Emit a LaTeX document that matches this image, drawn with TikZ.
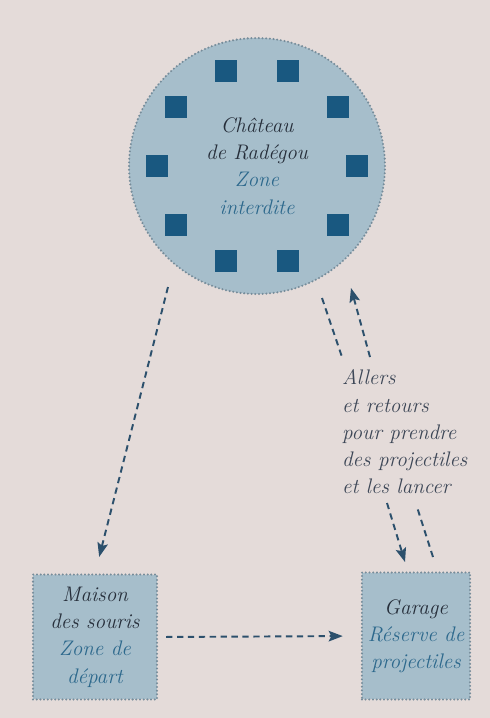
\documentclass[tikz,border=0pt]{standalone}
\usetikzlibrary{arrows.meta}

\definecolor{pagebg}{RGB}{228,219,217}
\definecolor{zonefill}{RGB}{166,190,203}
\definecolor{zoneline}{RGB}{118,140,154}
\definecolor{tourblue}{RGB}{25,88,128}
\definecolor{darktext}{RGB}{38,46,58}
\definecolor{bluetext}{RGB}{44,104,140}
\definecolor{arrowblue}{RGB}{44,80,108}
\definecolor{labeltext}{RGB}{60,70,86}

\begin{document}
\begin{tikzpicture}[x=0.02cm,y=-0.02cm,
    zone/.style={fill=zonefill,draw=zoneline,line width=1.3pt,dash pattern=on 0pt off 2.1pt,line cap=round},
    tour/.style={fill=tourblue,inner sep=0pt,minimum size=0.44cm},
    txt/.style={font=\itshape\fontsize{12}{15.5}\selectfont,align=center,text=darktext},
    liaison/.style={arrowblue,line width=1.1pt,dash pattern=on 3.6pt off 2.6pt,-{Stealth[length=8pt,width=6pt,inset=1.5pt]}},
    trait/.style={arrowblue,line width=1.1pt,dash pattern=on 3.6pt off 2.6pt}]
    % page
    \fill[pagebg] (0,0) rectangle (490,718);
    \useasboundingbox (0,0) rectangle (490,718);
    % castle
    \node[zone,circle,minimum size=5.12cm,txt] (chateau) at (257,166)
        {Ch\^ateau\\de Rad\'egou\\\textcolor{bluetext}{Zone}\\\textcolor{bluetext}{interdite}};
    \foreach \a in {0,36,...,324}
        \node[tour] at ([shift={(\a:100)}]chateau.center) {};
    % houses
    \node[zone,rectangle,minimum width=2.48cm,minimum height=2.5cm,txt] (maison) at (95,637)
        {Maison\\des souris\\\textcolor{bluetext}{Zone de}\\\textcolor{bluetext}{d\'epart}};
    \node[zone,rectangle,minimum width=2.14cm,minimum height=2.54cm,txt] (garage) at (416,636)
        {Garage\\\textcolor{bluetext}{R\'eserve de}\\\textcolor{bluetext}{projectiles}};
    \node[txt,align=left,text=labeltext,anchor=west] (trajet) at (336,432)
        {Allers\\et retours\\pour prendre\\des projectiles\\et les lancer};
    % paths
    \coordinate (a1) at (168,287);
    \coordinate (b1) at (322,298);
    \coordinate (b2) at (342,357);
    \coordinate (b3) at (387,503);
    \coordinate (b4) at (405,562);
    \coordinate (c1) at (433,557);
    \coordinate (c2) at (417,507);
    \coordinate (c3) at (370,357);
    \coordinate (c4) at (351,288);
    \draw[liaison,shorten >=0.34cm] (a1) -- (maison.north);
    \draw[liaison,shorten <=0.16cm,shorten >=0.36cm] (maison.east) -- (garage.west);
    \draw[trait] (b1) -- (b2);
    \draw[liaison] (b3) -- (b4);
    \draw[trait] (c1) -- (c2);
    \draw[liaison] (c3) -- (c4);
\end{tikzpicture}
\end{document}
